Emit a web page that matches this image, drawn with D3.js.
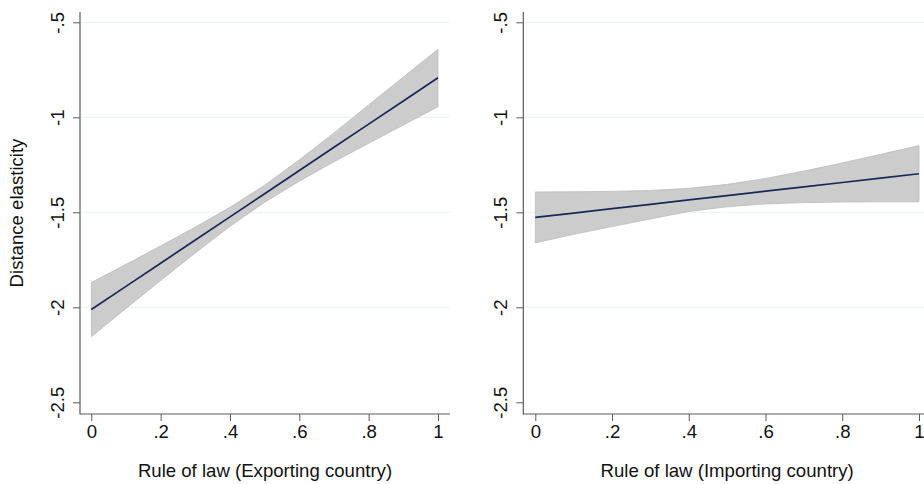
<!DOCTYPE html>
<html>
<head>
<meta charset="utf-8">
<script src="https://cdn.jsdelivr.net/npm/d3@7/dist/d3.min.js"></script>
<style>
  html, body { margin: 0; padding: 0; background: #ffffff; }
  svg { display: block; font-family: "Liberation Sans", Arial, Helvetica, sans-serif; }
</style>
</head>
<body>
<svg id="chart" width="924" height="484"></svg>
<script>
// ---- data ----
const ruleOfLaw = [0, 0.1, 0.2, 0.3, 0.4, 0.5, 0.6, 0.7, 0.8, 0.9, 1.0];

// Exporting country
const expMargin = [-2.012, -1.890, -1.768, -1.646, -1.524, -1.402, -1.280, -1.158, -1.036, -0.914, -0.792];
const expUpper  = [-1.870, -1.774, -1.677, -1.578, -1.474, -1.357, -1.224, -1.082, -0.935, -0.788, -0.642];
const expLower  = [-2.155, -2.006, -1.859, -1.714, -1.574, -1.447, -1.336, -1.234, -1.137, -1.041, -0.944];

// Importing country
const impMargin = [-1.527, -1.504, -1.481, -1.458, -1.435, -1.412, -1.389, -1.366, -1.343, -1.320, -1.297];
const impUpper  = [-1.393, -1.392, -1.390, -1.385, -1.374, -1.353, -1.322, -1.283, -1.240, -1.195, -1.149];
const impLower  = [-1.661, -1.616, -1.575, -1.535, -1.496, -1.471, -1.456, -1.449, -1.446, -1.445, -1.445];

const yTicks = [-2.5, -2, -1.5, -1, -0.5];
const yTickLabels = ["-2.5", "-2", "-1.5", "-1", "-.5"];
const xTicks = [0, 0.2, 0.4, 0.6, 0.8, 1];
const xTickLabels = ["0", ".2", ".4", ".6", ".8", "1"];
const yTitle = "Distance elasticity";
const xTitles = ["Rule of law (Exporting country)", "Rule of law (Importing country)"];

// ---- layout ----
const svg = d3.select("#chart");
const FONT = 18.6;
const panels = [
  { left: 80,    right: 450, x0: 91.3,  x1: 438,  margin: expMargin, lo: expLower, hi: expUpper, title: xTitles[0], yTitle: true },
  { left: 523.3, right: 931, x0: 535.3, x1: 919,  margin: impMargin, lo: impLower, hi: impUpper, title: xTitles[1], yTitle: false }
];
const plotTop = 12, plotBottom = 414;

panels.forEach(p => {
  const g = svg.append("g");
  const x = d3.scaleLinear().domain([0, 1]).range([p.x0, p.x1]);
  const y = d3.scaleLinear().domain([-0.5, -2.5]).range([22.3, 402.3]);

  // gridlines
  g.append("g").selectAll("line")
    .data(yTicks.filter(v => v !== -2.5))
    .join("line")
    .attr("x1", p.left + 1).attr("x2", p.right)
    .attr("y1", d => y(d)).attr("y2", d => y(d))
    .attr("stroke", "#eaf2f3").attr("stroke-width", 1);

  // confidence band
  const rows = ruleOfLaw.map((v, i) => ({ x: v, lo: p.lo[i], hi: p.hi[i], m: p.margin[i] }));
  const area = d3.area().x(d => x(d.x)).y0(d => y(d.lo)).y1(d => y(d.hi));
  g.append("path").datum(rows)
    .attr("d", area)
    .attr("fill", "#cccccc")
    .attr("stroke", "#bbbbbb")
    .attr("stroke-width", 0.8);

  // prediction line
  const line = d3.line().x(d => x(d.x)).y(d => y(d.m));
  g.append("path").datum(rows)
    .attr("d", line)
    .attr("fill", "none")
    .attr("stroke", "#1a2755")
    .attr("stroke-width", 1.7);

  // y axis
  const yAxis = d3.axisLeft(y).tickValues(yTicks)
    .tickFormat((d, i) => yTickLabels[i]).tickSize(7).tickPadding(9);
  const ya = g.append("g").attr("transform", `translate(${p.left},0)`).call(yAxis);
  ya.select(".domain").remove();
  ya.selectAll(".tick line").attr("stroke", "#5a5a5a").attr("stroke-width", 1);
  ya.selectAll(".tick text")
    .attr("x", null).attr("dy", null)
    .attr("transform", "translate(-16.5,0) rotate(-90)")
    .attr("text-anchor", "middle")
    .attr("font-size", FONT)
    .attr("fill", "#111");

  // x axis
  const xAxis = d3.axisBottom(x).tickValues(xTicks)
    .tickFormat((d, i) => xTickLabels[i]).tickSize(7).tickPadding(6);
  const xa = g.append("g").attr("transform", `translate(0,${plotBottom})`).call(xAxis);
  xa.select(".domain").remove();
  xa.selectAll(".tick line").attr("stroke", "#5a5a5a").attr("stroke-width", 1);
  xa.selectAll(".tick text")
    .attr("dy", null).attr("y", 23.5)
    .attr("font-size", FONT)
    .attr("fill", "#111");

  // axis lines
  g.append("line").attr("x1", p.left).attr("x2", p.left).attr("y1", plotTop).attr("y2", plotBottom + 0.5)
    .attr("stroke", "#5a5a5a").attr("stroke-width", 1.2);
  g.append("line").attr("x1", p.left).attr("x2", p.right).attr("y1", plotBottom).attr("y2", plotBottom)
    .attr("stroke", "#5a5a5a").attr("stroke-width", 1.2);

  // x title
  g.append("text")
    .attr("x", (p.left + p.right) / 2).attr("y", 477)
    .attr("text-anchor", "middle")
    .attr("font-size", FONT).attr("fill", "#111")
    .text(p.title);

  if (p.yTitle) {
    g.append("text")
      .attr("transform", `translate(23,${(plotTop + plotBottom) / 2}) rotate(-90)`)
      .attr("text-anchor", "middle")
      .attr("font-size", FONT).attr("fill", "#111")
      .text(yTitle);
  }
});
</script>
</body>
</html>
